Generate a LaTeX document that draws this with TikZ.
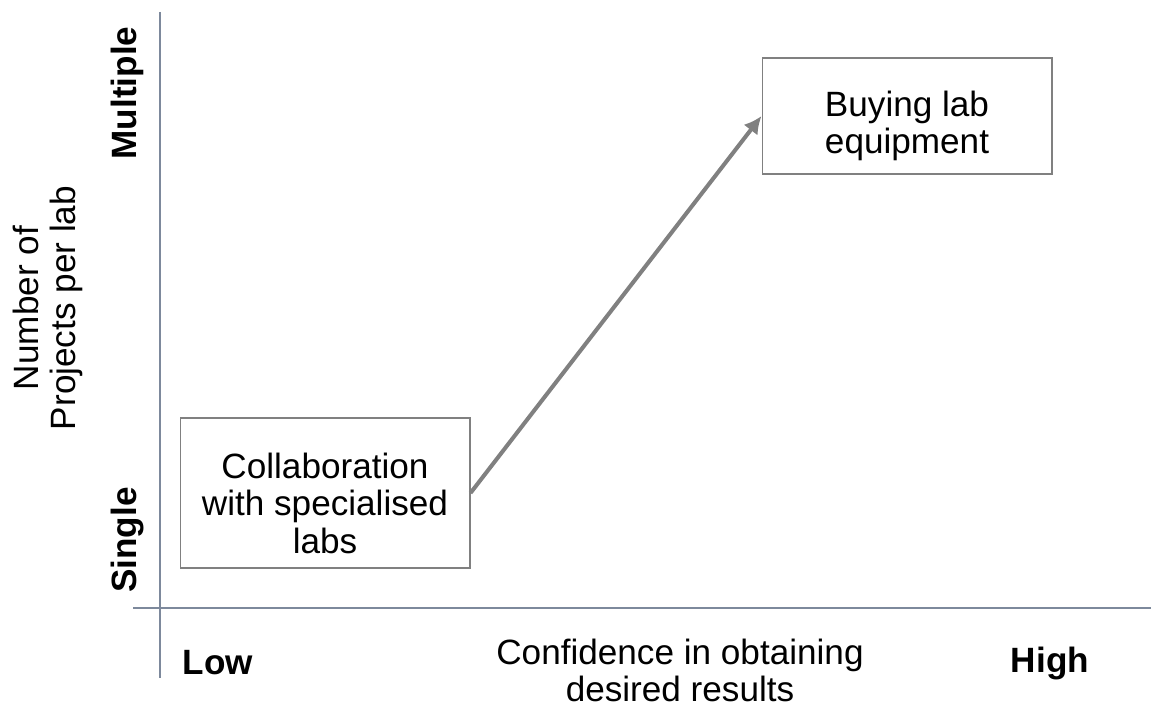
\documentclass[tikz,border=0pt]{standalone}
\usepackage{fontspec}
\setmainfont{Liberation Sans}
\usetikzlibrary{arrows.meta}
\definecolor{axisgray}{HTML}{7D899C}
\definecolor{boxgray}{HTML}{808080}
\newcommand{\toppad}{\rule{0pt}{26pt}}
\tikzset{
  optionbox/.style={draw=boxgray, line width=0.6pt, minimum width=5.8cm, align=center,
    font=\fontsize{20}{21.3}\selectfont},
  axislabel/.style={font=\fontsize{20}{21}\selectfont\bfseries},
  axistitle/.style={align=center, font=\fontsize{20}{21}\selectfont}
}
\begin{document}
\begin{tikzpicture}[x=0.02cm, y=-0.02cm]
\useasboundingbox (0,0) rectangle (1151,706);

\draw [axisgray, line width=0.8pt] (160,12) -- (160,678);
\draw [axisgray, line width=0.8pt] (133,608) -- (1151,608);

\node [optionbox, minimum height=3cm] (collab) at (325,493) {\toppad Collaboration\\with specialised\\labs};
\node [optionbox, minimum height=2.32cm] (buying) at (907,116) {\toppad Buying lab\\equipment};

\draw [boxgray, line width=2.3pt, -{Latex[length=10pt, width=10pt]}] (collab.east) -- (buying.west);

\node [axislabel, rotate=90] (multiple) at (127,93) {Multiple};
\node [axislabel, rotate=90] (single) at (127,540) {Single};
\node [axistitle, rotate=90] (ytitle) at (48,308) {Number of\\Projects per lab};

\node [axislabel] (low) at (218,663) {Low};
\node [axislabel] (high) at (1050,663) {High};
\node [axistitle] (xtitle) at (680,670) {Confidence in obtaining\\desired results};
\end{tikzpicture}
\end{document}
